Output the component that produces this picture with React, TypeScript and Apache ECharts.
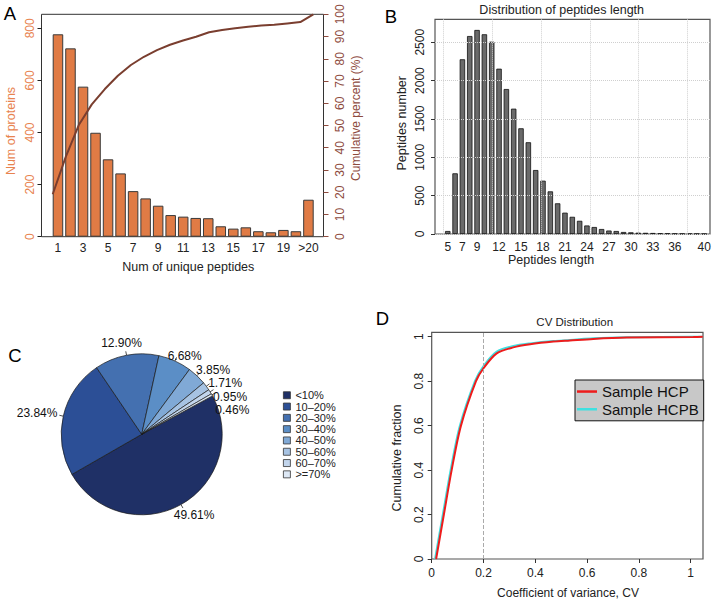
import React, { useEffect, useRef } from 'react';
import * as echarts from 'echarts';

// ---------- Panel A ----------
const uniqueCats = ['1', '2', '3', '4', '5', '6', '7', '8', '9', '10', '11', '12', '13', '14', '15', '16', '17', '18', '19', '20', '>20'];
const proteinCounts = [777, 723, 576, 399, 297, 243, 175, 147, 119, 83, 77, 72, 71, 40, 31, 36, 21, 17, 26, 21, 142];
const cumulativePct = [19.1, 35.9, 50.2, 59.5, 66.4, 72.4, 77.2, 80.9, 83.9, 86.3, 88.2, 89.9, 91.9, 92.9, 93.7, 94.4, 95.0, 95.3, 95.9, 96.5, 100];
const proteinTicks = [0, 200, 400, 600, 800];

// ---------- Panel B ----------
const lengthCats = ['5', '6', '7', '8', '9', '10', '11', '12', '13', '14', '15', '16', '17', '18', '19', '20', '21', '22', '23', '24', '25', '26', '27', '28', '29', '30', '31', '32', '33', '34', '35', '36', '37', '38', '39', '40'];
const peptideCounts = [39, 791, 2278, 2581, 2660, 2604, 2507, 2155, 1890, 1634, 1378, 1196, 834, 695, 556, 400, 278, 224, 172, 111, 91, 65, 45, 39, 26, 22, 17, 15, 13, 9, 8, 5, 4, 3, 3, 2];
const lengthLabels = ['5', '7', '9', '12', '15', '18', '21', '24', '27', '30', '33', '36', '40'];
const peptideTicks = [0, 500, 1000, 1500, 2000, 2500];

// ---------- Panel C ----------
const cvBins = ['<10%', '10–20%', '20–30%', '30–40%', '40–50%', '50–60%', '60–70%', '>=70%'];
const cvShares = [49.61, 23.84, 12.9, 6.68, 3.85, 1.71, 0.95, 0.46];
const pieColors = ['#1f3066', '#2c4f96', '#4470b0', '#5b8ec6', '#80a9d6', '#a7c3e3', '#c2d5ec', '#dde8f5'];

// ---------- Panel D ----------
const hcpX = [0.017, 0.047, 0.077, 0.113, 0.171, 0.2, 0.251, 0.315, 0.38, 0.47, 0.534, 0.624, 0.753, 1.01, 1.047];
const hcpY = [0, 0.2, 0.4, 0.6, 0.8, 0.858, 0.925, 0.952, 0.966, 0.978, 0.983, 0.99, 0.996, 0.999, 1.0];
const hcpbX = [0.013, 0.043, 0.073, 0.109, 0.167, 0.2, 0.251, 0.315, 0.38, 0.47, 0.534, 0.624, 0.753, 1.01, 1.047];
const hcpbY = [0, 0.2, 0.4, 0.6, 0.8, 0.868, 0.933, 0.958, 0.97, 0.981, 0.985, 0.9925, 0.997, 1.0, 1.0];
const cvTicks = [0, 0.2, 0.4, 0.6, 0.8, 1];

const FONT = "'Liberation Sans', Arial, Helvetica, sans-serif";
const ORANGE = '#E8834F';
const BROWN = '#8E4B3E';
const LINE_BROWN = '#7A3E2F';
const PIE_CENTER = [141.7, 434.3];
const PIE_R = 80.5;
const PIE_START = 28.5;
const LABEL_R = 87;
const LABEL_MIN_GAP = 13.5;

// mid angle (radians) of each slice, from the shares
const pieMid: number[] = (() => {
  let cum = 0;
  return cvShares.map((s) => {
    const m = PIE_START - (cum + s / 2) * 3.6;
    cum += s;
    return (m * Math.PI) / 180;
  });
})();

// vertical centres of the labels, with a simple push-down for the crowded small slices
function labelCentersY(h: number): number[] {
  const ys = pieMid.map((a) => PIE_CENTER[1] - Math.sin(a) * LABEL_R - (Math.sin(a) * h) / 2);
  for (let i = 1; i < ys.length; i++) {
    if (Math.cos(pieMid[i]) > 0 && Math.sin(pieMid[i]) > 0 && Math.sin(pieMid[i - 1]) > 0) {
      ys[i] = Math.max(ys[i], ys[i - 1] + LABEL_MIN_GAP);
    }
  }
  return ys;
}

function txt(text: string, x: number, y: number, size: number, fill = '#111', rot = 0) {
  return {
    type: 'text',
    x,
    y,
    rotation: rot,
    silent: true,
    style: { text, fontSize: size, fontFamily: FONT, fill, textAlign: 'center', textVerticalAlign: 'middle' },
  };
}

export default function App() {
  const ref = useRef<HTMLDivElement>(null);
  useEffect(() => {
    const chart = echarts.init(ref.current!, undefined, { renderer: 'svg' });
    const labelBase = { fontFamily: FONT, fontSize: 12, color: '#222' };
    const plain = (v: number) => String(v);
    const option: any = {
      animation: false,
      backgroundColor: '#fff',
      textStyle: { fontFamily: FONT },
      grid: [
        { left: 41.5, top: 14.3, width: 282, height: 222.4, show: true, borderColor: '#333', borderWidth: 1 },
        { left: 51.7, top: 14.3, width: 263, height: 222.4 },
        { left: 435, top: 19.3, width: 275, height: 214.7, show: true, borderColor: '#555', borderWidth: 1.2 },
        { left: 443.3, top: 19.3, width: 244.2, height: 214.7 },
        { left: 444.1, top: 19.3, width: 263.7, height: 214.7 },
        { left: 431.7, top: 332.3, width: 271.3, height: 226.7, show: true, borderColor: '#555', borderWidth: 1.2 },
      ],
      xAxis: [
        { gridIndex: 0, type: 'value', min: 0.14, max: 21.78, show: false },
        {
          gridIndex: 1, type: 'category', data: uniqueCats,
          axisLine: { show: false }, axisTick: { show: false },
          axisLabel: { ...labelBase, interval: 1, margin: 5 },
        },
        { gridIndex: 2, type: 'value', min: 0, max: 1, show: false },
        {
          gridIndex: 3, type: 'value', min: 0, max: 40, interval: 8, z: 5,
          axisLine: { show: false }, axisTick: { show: false }, axisLabel: { show: false },
          splitLine: { show: true, lineStyle: { type: 'dotted', color: '#cfcfcf', width: 1 } },
        },
        {
          gridIndex: 4, type: 'category', data: lengthCats,
          axisLine: { show: false }, axisTick: { show: false },
          axisLabel: { ...labelBase, margin: 6.5, interval: (_i: number, v: string) => lengthLabels.includes(v) },
        },
        {
          gridIndex: 5, type: 'value', min: 0, max: 1.0475,
          axisLine: { show: false },
          axisTick: { show: true, customValues: cvTicks, length: 4, lineStyle: { color: '#333' } },
          axisLabel: { ...labelBase, customValues: cvTicks, margin: 8, formatter: plain },
          splitLine: { show: false },
        },
      ],
      yAxis: [
        {
          gridIndex: 0, type: 'value', position: 'left', min: 0, max: 853.7,
          axisLine: { show: false },
          axisTick: { show: true, customValues: proteinTicks, length: 4, lineStyle: { color: '#222' } },
          axisLabel: { ...labelBase, color: ORANGE, customValues: proteinTicks, rotate: 90, margin: 5.5, formatter: plain },
          splitLine: { show: false },
        },
        {
          gridIndex: 0, type: 'value', position: 'right', min: 0, max: 100, interval: 10,
          axisLine: { show: false },
          axisTick: { show: true, length: 5, lineStyle: { color: BROWN } },
          axisLabel: { ...labelBase, color: BROWN, rotate: 90, margin: 10, formatter: plain },
          splitLine: { show: false },
        },
        { gridIndex: 1, type: 'value', min: 0, max: 853.7, show: false },
        {
          gridIndex: 2, type: 'value', min: 0, max: 2799, interval: 500, z: 5,
          axisLine: { show: false },
          axisTick: { show: true, customValues: peptideTicks, length: 4, lineStyle: { color: '#333' } },
          axisLabel: { ...labelBase, customValues: peptideTicks, rotate: 90, margin: 9, formatter: plain },
          splitLine: { show: true, lineStyle: { type: 'dotted', color: '#cfcfcf', width: 1 } },
        },
        { gridIndex: 3, type: 'value', min: 0, max: 1, show: false },
        { gridIndex: 4, type: 'value', min: 0, max: 2799, show: false },
        {
          gridIndex: 5, type: 'value', min: 0, max: 1.0198,
          axisLine: { show: false },
          axisTick: { show: true, customValues: cvTicks, length: 4, lineStyle: { color: '#333' } },
          axisLabel: { ...labelBase, customValues: cvTicks, rotate: 90, margin: 6.5, formatter: plain },
          splitLine: { show: false },
        },
      ],
      legend: [
        {
          data: cvBins, orient: 'vertical', left: 283, top: 389.6, padding: 0,
          itemWidth: 7, itemHeight: 7, itemGap: 0, icon: 'rect', selectedMode: false,
          textStyle: { fontFamily: FONT, fontSize: 11, lineHeight: 11.3, color: '#222' },
          itemStyle: { borderColor: '#333', borderWidth: 0.8 },
        },
        {
          data: ['Sample HCP', 'Sample HCPB'], orient: 'vertical', left: 575, top: 380,
          padding: [2.7, 5, 2.7, 2], backgroundColor: '#c8c8c8', borderColor: '#111', borderWidth: 1, borderRadius: 0,
          itemWidth: 20, itemHeight: 2.5, itemGap: 0, icon: 'rect', selectedMode: false,
          textStyle: { fontFamily: FONT, fontSize: 15, lineHeight: 17.7, color: '#111' },
        },
      ],
      series: [
        {
          type: 'bar', xAxisIndex: 1, yAxisIndex: 2, data: proteinCounts, barCategoryGap: '16%',
          itemStyle: { color: '#E07B45', borderColor: '#3a3a3a', borderWidth: 1 },
        },
        {
          type: 'line', xAxisIndex: 0, yAxisIndex: 1, z: 5, symbol: 'none',
          data: cumulativePct.map((v, i) => [i + 1, v]),
          lineStyle: { color: LINE_BROWN, width: 2 },
        },
        {
          type: 'bar', xAxisIndex: 4, yAxisIndex: 5, data: peptideCounts, barCategoryGap: '26%',
          itemStyle: { color: '#6a6a6a', borderColor: '#111', borderWidth: 0.8 },
        },
        {
          type: 'pie', center: PIE_CENTER, radius: PIE_R, startAngle: PIE_START, clockwise: true,
          avoidLabelOverlap: false,
          data: cvBins.map((name, i) => ({ name, value: cvShares[i], itemStyle: { color: pieColors[i] } })),
          itemStyle: { borderColor: '#1a1a1a', borderWidth: 0.7 },
          label: {
            show: true, position: 'outside', fontFamily: FONT, fontSize: 12, lineHeight: 12, color: '#111',
            formatter: (p: any) => p.value.toFixed(2) + '%',
          },
          labelLine: { show: true, length: 4, length2: 0, lineStyle: { color: '#222', width: 0.8 } },
          labelLayout: (p: any) => {
            const i = p.dataIndex;
            const a = pieMid[i];
            if (a == null) return {};
            const cx = PIE_CENTER[0], cy = PIE_CENTER[1];
            const c = Math.cos(a), s = Math.sin(a);
            const w = p.labelRect.width, h = p.labelRect.height;
            const ys = labelCentersY(h);
            return {
              x: cx + c * LABEL_R + (c * w) / 2,
              y: ys[i],
              align: 'center',
              verticalAlign: 'middle',
              labelLinePoints: [
                [cx + c * PIE_R, cy - s * PIE_R],
                [cx + c * (PIE_R + 4), cy - s * (PIE_R + 4)],
                [cx + c * (PIE_R + 4), cy - s * (PIE_R + 4)],
              ],
            };
          },
        },
        {
          name: 'Sample HCPB', type: 'line', xAxisIndex: 5, yAxisIndex: 6, symbol: 'none', smooth: 0.3,
          color: '#3fe0e0',
          data: hcpbX.map((x, i) => [x, hcpbY[i]]),
          lineStyle: { color: '#3fe0e0', width: 2 },
          markLine: {
            silent: true, symbol: 'none', label: { show: false },
            lineStyle: { type: 'dashed', color: '#aaaaaa', width: 1 },
            data: [{ xAxis: 0.2 }],
          },
        },
        {
          name: 'Sample HCP', type: 'line', xAxisIndex: 5, yAxisIndex: 6, symbol: 'none', smooth: 0.3,
          color: '#ee1c1c',
          data: hcpX.map((x, i) => [x, hcpY[i]]),
          lineStyle: { color: '#ee1c1c', width: 2 },
        },
      ],
      graphic: [
        txt('A', 10, 13.3, 18.5, '#000'),
        txt('B', 391, 16, 18.5, '#000'),
        txt('C', 15, 355, 18.5, '#000'),
        txt('D', 382.5, 318.3, 18.5, '#000'),
        txt('Num of proteins', 10.5, 131, 12.5, ORANGE, Math.PI / 2),
        txt('Cumulative percent (%)', 355.8, 118.3, 12, BROWN, Math.PI / 2),
        txt('Num of unique peptides', 188.3, 266.7, 12.5, '#222'),
        txt('Distribution of peptides length', 561.7, 10, 12.5, '#222'),
        txt('Peptides number', 401.7, 123.3, 12.5, '#222', Math.PI / 2),
        txt('Peptides length', 551, 260, 12.5, '#222'),
        txt('CV Distribution', 574.7, 322, 11.5, '#222'),
        txt('Cumulative fraction', 396.7, 458, 12.5, '#222', Math.PI / 2),
        txt('Coefficient of variance, CV', 568, 593, 12, '#222'),
      ],
    };
    chart.setOption(option);
    return () => chart.dispose();
  }, []);
  return (
    <div
      ref={ref}
      style={{ position: 'absolute', left: 0, top: 0, width: 716, height: 601, background: '#fff' }}
    />
  );
}
